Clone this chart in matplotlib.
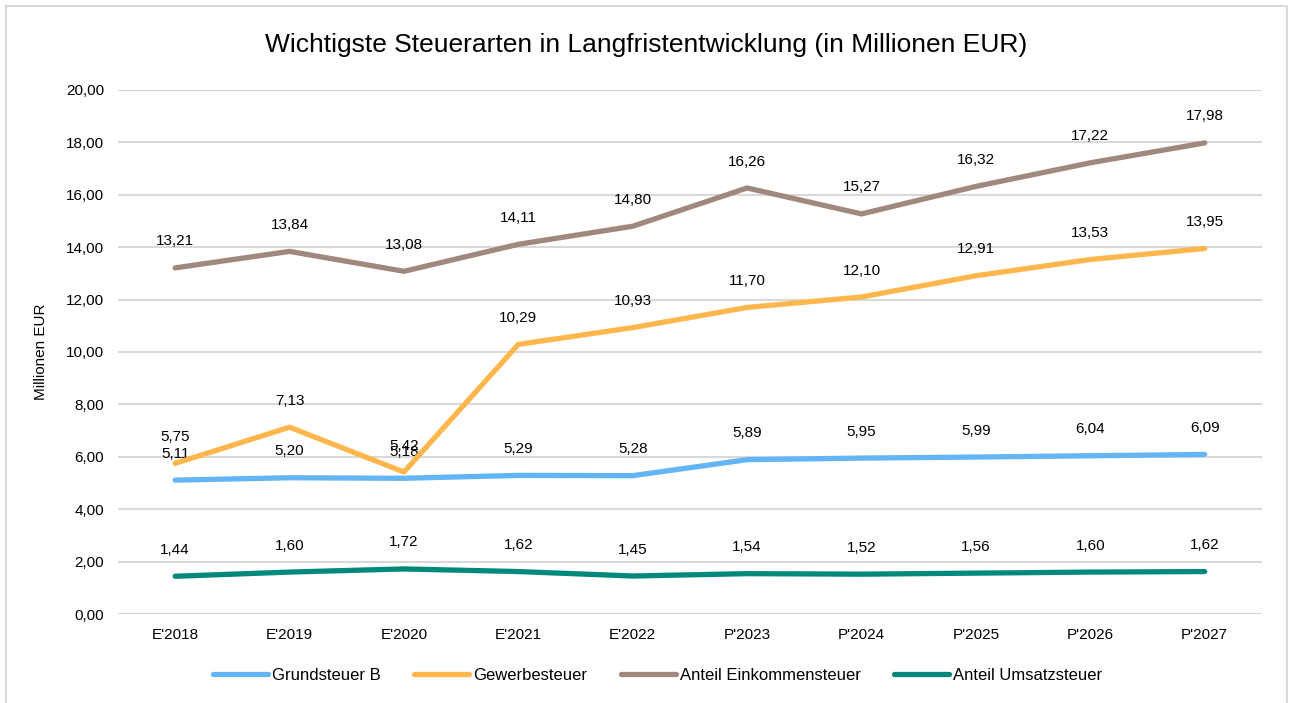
import matplotlib
matplotlib.use('Agg')
import matplotlib.pyplot as plt
from matplotlib.patches import Rectangle
from matplotlib.ticker import FuncFormatter

plt.rcParams['font.family'] = ['Liberation Sans', 'DejaVu Sans']

years = ["E'2018", "E'2019", "E'2020", "E'2021", "E'2022",
         "P'2023", "P'2024", "P'2025", "P'2026", "P'2027"]
grundsteuer = [5.11, 5.20, 5.18, 5.29, 5.28, 5.89, 5.95, 5.99, 6.04, 6.09]
gewerbesteuer = [5.75, 7.13, 5.42, 10.29, 10.93, 11.70, 12.10, 12.91, 13.53, 13.95]
einkommensteuer = [13.21, 13.84, 13.08, 14.11, 14.80, 16.26, 15.27, 16.32, 17.22, 17.98]
umsatzsteuer = [1.44, 1.60, 1.72, 1.62, 1.45, 1.54, 1.52, 1.56, 1.60, 1.62]

series = [
    ("Grundsteuer B", grundsteuer, '#64B5F6'),
    ("Gewerbesteuer", gewerbesteuer, '#FFB74D'),
    ("Anteil Einkommensteuer", einkommensteuer, '#A1887F'),
    ("Anteil Umsatzsteuer", umsatzsteuer, '#00897B'),
]

def de(v):
    return f"{v:.2f}".replace('.', ',')

fig = plt.figure(figsize=(12.92, 7.03), dpi=100)
ax = fig.add_axes([0.0913, 0.1266, 0.8854, 0.7454])

x = list(range(len(years)))
for name, vals, col in series:
    ax.plot(x, vals, color=col, linewidth=3.8, label=name, solid_capstyle='round', zorder=3)
    for xi, v in zip(x, vals):
        ax.annotate(de(v), (xi, v), xytext=(0, 14), textcoords='offset points',
                    ha='center', va='bottom', fontsize=11, color='#000000')

ax.set_xlim(-0.5, len(years) - 0.5)
ax.set_ylim(0, 20)
ax.set_yticks(range(0, 21, 2))
ax.yaxis.set_major_formatter(FuncFormatter(lambda v, p: de(v)))
ax.set_xticks(x)
ax.set_xticklabels(years)
ax.tick_params(axis='both', length=0, labelsize=11, colors='#000000')
ax.tick_params(axis='y', pad=10)
ax.tick_params(axis='x', pad=10)
ax.grid(axis='y', color='#D9D9D9', linewidth=1.5)
ax.set_axisbelow(True)
for s in ax.spines.values():
    s.set_visible(False)
ax.set_ylabel("Millionen EUR", fontsize=11)
ax.yaxis.set_label_coords(-0.061, 0.5)

fig.text(0.5, 0.936, "Wichtigste Steuerarten in Langfristentwicklung (in Millionen EUR)",
         ha='center', va='center', fontsize=19)

fig.legend(loc='center', bbox_to_anchor=(0.509, 0.039), ncol=4, frameon=False,
           fontsize=12, handlelength=3.3, columnspacing=2.0, handletextpad=0.25)

fig.patches.append(Rectangle((6 / 1292, -0.01), 1281 / 1292, 1 - 6 / 703 + 0.01,
                             transform=fig.transFigure, fill=False,
                             edgecolor='#D9D9D9', linewidth=1.5))

fig.savefig('out.png', dpi=100)
plt.close(fig)
